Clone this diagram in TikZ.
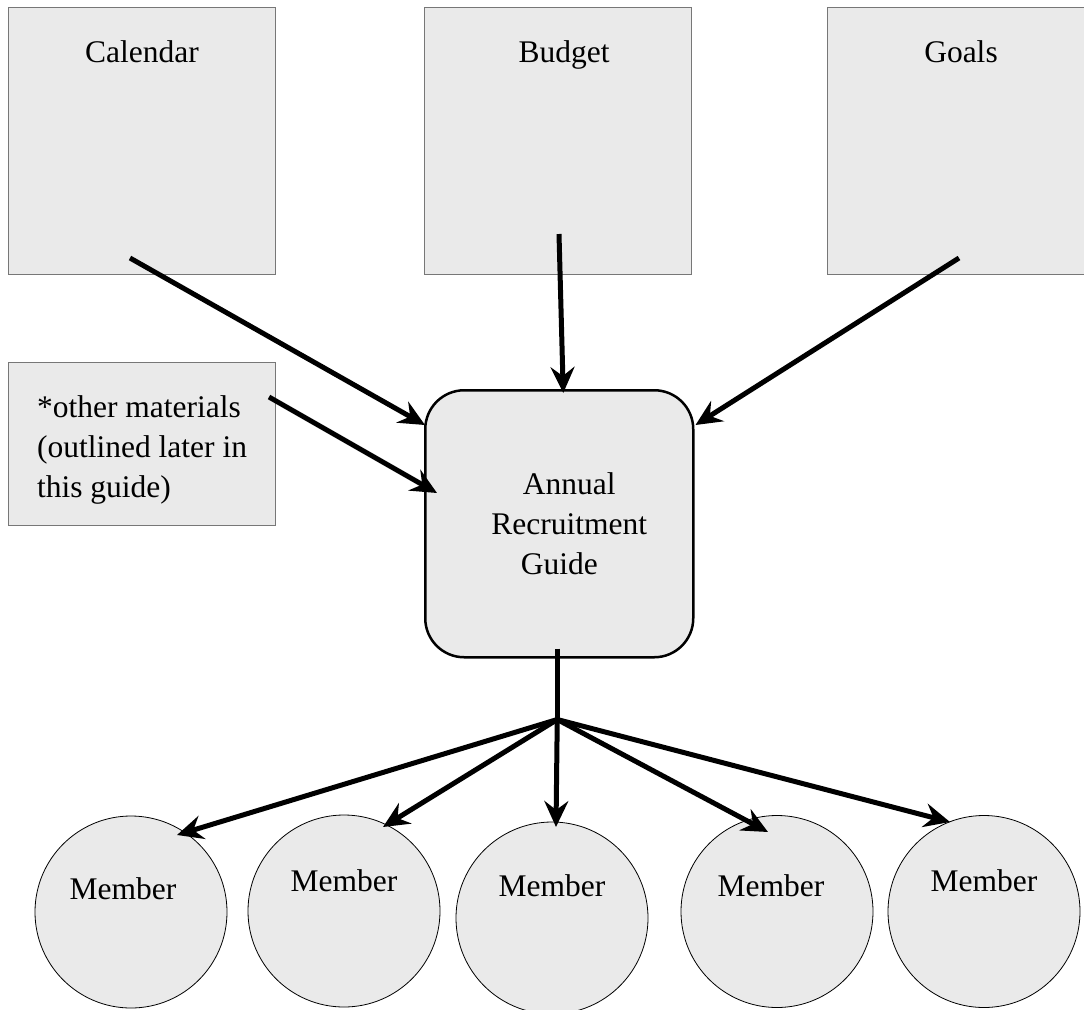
\documentclass[tikz,border=0pt]{standalone}
\usepackage{fontspec}
\setmainfont{Liberation Serif}
\usetikzlibrary{arrows.meta}
\definecolor{boxfill}{HTML}{EAEAEA}
\definecolor{boxline}{HTML}{777777}
\tikzset{
  topbox/.style={draw=boxline, line width=1bp, fill=boxfill, anchor=north west,
    minimum width=267bp, inner sep=0pt, text height=55bp, text depth=212bp},
  otherbox/.style={draw=boxline, line width=1bp, fill=boxfill, anchor=north west,
    minimum width=267bp, minimum height=163bp, inner sep=0pt, align=left},
  guidebox/.style={draw=black, line width=2.5bp, fill=boxfill, anchor=north west,
    rounded corners=39bp, minimum width=268bp, minimum height=267bp, inner sep=0pt, align=center},
  memb/.style={circle, draw=black, line width=0.8bp, fill=boxfill, minimum size=192bp,
    inner sep=0pt, text height=21.5bp},
  conn/.style={line width=5bp, draw=black},
  arr/.style={conn, -{Stealth[length=26bp, width=24bp, inset=9bp]}},
}
\begin{document}
\begin{tikzpicture}[x=1bp, y=-1bp, font=\fontsize{31.5bp}{40bp}\selectfont]
\clip (0,0) rectangle (1084,1010);
% top boxes
\node[topbox] (cal) at (8,7) {Calendar};
\node[topbox] (bud) at (424,7) {\hspace*{12bp}Budget};
\node[topbox] (goa) at (827,7) {Goals};
% other materials
\node[otherbox] (oth) at (8,362) {\rule{0pt}{34bp}*other materials\\(outlined later in\\this guide)};
% guide
\node[guidebox] (guide) at (424,389) {\hspace*{20bp}Annual\\\hspace*{20bp}Recruitment\\Guide};
% members
\node[memb, text depth=47.5bp] (m1) at (131,912) {Member\hspace*{16bp}};
\node[memb, text depth=61.5bp] (m2) at (344,911) {Member};
\node[memb, text depth=65.5bp] (m3) at (552,918) {Member};
\node[memb, text depth=52.5bp] (m4) at (777,911.5) {Member\hspace*{12bp}};
\node[memb, text depth=62.5bp] (m5) at (984,911.5) {Member};
% connector coordinates
\coordinate (calout) at ([shift={(122,-17)}]cal.south west);
\coordinate (budout) at ([shift={(1,-41)}]bud.south);
\coordinate (goaout) at ([shift={(-2,-17)}]goa.south);
\coordinate (othout) at ([shift={(-7,35)}]oth.north east);
\coordinate (gin1) at ([shift={(1,36)}]guide.north west);
\coordinate (gin2) at ([shift={(13,104)}]guide.north west);
\coordinate (gin3) at ([shift={(4,4)}]guide.north);
\coordinate (gin4) at ([shift={(1,36)}]guide.north east);
\coordinate (gout) at ([shift={(-2,-10)}]guide.south);
\coordinate (junc) at ([shift={(-2,61)}]guide.south);
\coordinate (t1) at ([shift={(46,-77)}]m1.center);
\coordinate (t2) at ([shift={(39,-84)}]m2.center);
\coordinate (t3) at ([shift={(4,-91)}]m3.center);
\coordinate (t4) at ([shift={(-9,-79.5)}]m4.center);
\coordinate (t5) at ([shift={(-34,-89.5)}]m5.center);
% connectors
\draw[arr] (calout) -- (gin1);
\draw[arr] (othout) -- (gin2);
\draw[arr] (budout) -- (gin3);
\draw[arr] (goaout) -- (gin4);
\draw[conn] (gout) -- (junc);
\draw[arr] (junc) -- (t1);
\draw[arr] (junc) -- (t2);
\draw[arr] (junc) -- (t3);
\draw[arr] (junc) -- (t4);
\draw[arr] (junc) -- (t5);
\end{tikzpicture}
\end{document}
